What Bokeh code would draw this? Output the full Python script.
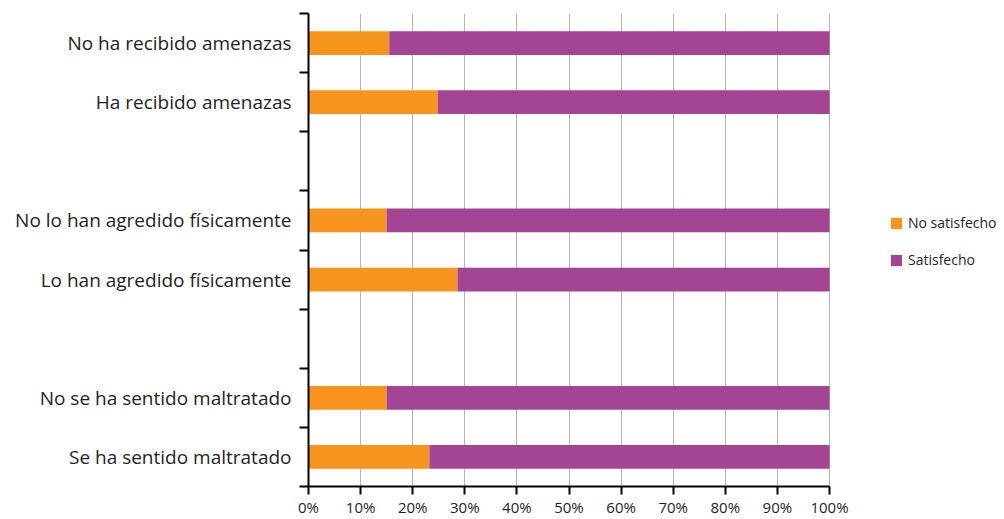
from bokeh.plotting import figure
from bokeh.models import Range1d, FixedTicker, Legend, LegendItem, ColumnDataSource
from bokeh.embed import file_html
from bokeh.resources import INLINE

# Data (top to bottom; "" marks an empty separator band)
categories = ["No ha recibido amenazas", "Ha recibido amenazas", "",
              "No lo han agredido físicamente", "Lo han agredido físicamente", "",
              "No se ha sentido maltratado", "Se ha sentido maltratado"]
no_satisfecho = [15.5, 24.8, None, 15.0, 28.6, None, 15.0, 23.2]
series_names = ["No satisfecho", "Satisfecho"]
colors = ["#F7941E", "#A34495"]
x_ticks = [0, 10, 20, 30, 40, 50, 60, 70, 80, 90, 100]
x_tick_labels = [f"{t}%" for t in x_ticks]

n = len(categories)
centers = [n - i - 0.5 for i in range(n)]
ys, lefts, mids, rights = [], [], [], []
for c, v in zip(centers, no_satisfecho):
    if v is None:
        continue
    ys.append(c)
    mids.append(v)
    lefts.append(0)
    rights.append(100)
src = ColumnDataSource(dict(y=ys, left=lefts, mid=mids, right=rights))

FONT = "Open Sans"
TXT = "#231F20"

W, H = 1000, 519
LEFT, TOP, BOTTOM = 308, 13, 32
frame_w = W - LEFT
axis_px = 521  # pixel length of the 0-100% scale
x_end = 100 * frame_w / axis_px

p = figure(width=W, height=H, output_backend="svg", toolbar_location=None,
           x_range=Range1d(0, x_end), y_range=Range1d(0, n),
           min_border_left=LEFT, min_border_right=0, min_border_top=TOP,
           min_border_bottom=BOTTOM)
p.outline_line_color = None

r1 = p.hbar(y="y", left="left", right="mid", height=0.4, source=src,
            fill_color=colors[0], line_color=None)
r2 = p.hbar(y="y", left="mid", right="right", height=0.4, source=src,
            fill_color=colors[1], line_color=None)

# grid
p.ygrid.grid_line_color = None
p.xgrid.ticker = FixedTicker(ticks=x_ticks)
p.xgrid.grid_line_color = "#B3B3B3"
p.xgrid.grid_line_width = 1

# x axis
xa = p.xaxis[0]
xa.bounds = (0, 100)
xa.ticker = FixedTicker(ticks=x_ticks)
xa.major_label_overrides = {t: l for t, l in zip(x_ticks, x_tick_labels)}
xa.axis_line_width = 2
xa.axis_line_color = "black"
xa.major_tick_line_width = 2
xa.major_tick_line_color = "black"
xa.major_tick_out = 8
xa.major_tick_in = 0
xa.minor_tick_line_color = None
xa.major_label_text_font = FONT
xa.major_label_text_font_size = "15px"
xa.major_label_text_color = TXT
xa.major_label_standoff = 2

# y axis: labels at band centres, ticks at band boundaries
ya = p.yaxis[0]
label_pos = [c for c, cat in zip(centers, categories) if cat]
ya.ticker = FixedTicker(ticks=label_pos, minor_ticks=list(range(n + 1)))
ya.major_label_overrides = {c: cat for c, cat in zip(centers, categories) if cat}
ya.axis_line_width = 2
ya.axis_line_color = "black"
ya.major_tick_out = 0
ya.major_tick_in = 0
ya.minor_tick_out = 9
ya.minor_tick_in = 0
ya.minor_tick_line_width = 2
ya.minor_tick_line_color = "black"
ya.major_label_text_font = FONT
ya.major_label_text_font_size = "19px"
ya.major_label_text_color = TXT
ya.major_label_standoff = 8

legend = Legend(items=[LegendItem(label=series_names[0], renderers=[r1]),
                       LegendItem(label=series_names[1], renderers=[r2])],
                location=(581, 217), orientation="vertical",
                glyph_width=14, glyph_height=14, label_height=14,
                spacing=18, padding=0, margin=0, label_standoff=5,
                label_text_font=FONT, label_text_font_size="14px",
                label_text_color=TXT, border_line_color=None,
                background_fill_alpha=0)
p.add_layout(legend, "center")

open("out.html", "w").write(file_html(p, INLINE))
